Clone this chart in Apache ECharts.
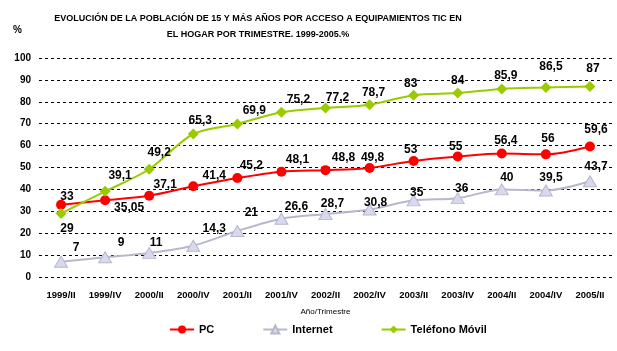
<!DOCTYPE html>
<html>
<head>
<meta charset="utf-8">
<script src="https://cdn.jsdelivr.net/npm/echarts@6/dist/echarts.min.js"></script>
<style>
  html, body { margin: 0; padding: 0; background: #fff; }
  #chart { width: 617px; height: 351px; }
</style>
</head>
<body>
<div id="chart"></div>
<script>
var periodos = ['1999/II', '1999/IV', '2000/II', '2000/IV', '2001/II', '2001/IV', '2002/II', '2002/IV', '2003/II', '2003/IV', '2004/II', '2004/IV', '2005/II'];
var pc = [33, 35.05, 37.1, 41.4, 45.2, 48.1, 48.8, 49.8, 53, 55, 56.4, 56, 59.6];
var internet = [7, 9, 11, 14.3, 21, 26.6, 28.7, 30.8, 35, 36, 40, 39.5, 43.7];
var movil = [29, 39.1, 49.2, 65.3, 69.9, 75.2, 77.2, 78.7, 83, 84, 85.9, 86.5, 87];

// desplazamiento de etiquetas (como en Excel)
var offPc = [[6, -8], [24, 7], [16, -11], [21, -11], [14, -12], [16, -12], [18, -12], [3, -10], [-3, -11], [-2, -10], [4, -13], [2, -16], [6, -17]];
var offInternet = [[15, -14], [16, -15], [7, -10], [21, -17], [14, -18], [15, -12], [7, -10], [6, -7], [3, -8], [4, -9], [5, -12], [5, -13], [6, -15]];
var offMovil = [[6, 15], [15, -16], [10, -17], [7, -13], [17, -13], [17, -13], [12, -10], [4, -12], [-3, -12], [0, -12], [4, -13], [5, -21], [3, -18]];

var fuente = 'Liberation Sans';

function conEtiquetas(vals, offs) {
	var out = [];
	for (var i = 0; i < vals.length; i++) {
		out.push({ value: vals[i], label: { offset: offs[i] } });
	}
	return out;
}

function fmt(p) {
	return String(p.value).replace('.', ',');
}

var etiqueta = {
	show: true,
	position: 'inside',
	formatter: fmt,
	color: '#000',
	fontFamily: fuente,
	fontSize: 12,
	fontWeight: 'bold'
};

var chart = echarts.init(document.getElementById('chart'));
chart.setOption({
	animation: false,
	textStyle: { fontFamily: fuente },
	graphic: [
		{
			type: 'text', x: 258, y: 11,
			style: {
				text: 'EVOLUCIÓN DE LA POBLACIÓN DE 15 Y MÁS AÑOS POR ACCESO A EQUIPAMIENTOS TIC EN\nEL HOGAR POR TRIMESTRE. 1999-2005.%',
				textAlign: 'center', fill: '#000', font: 'bold 9px "Liberation Sans"', lineHeight: 16
			}
		},
		{
			type: 'text', left: 13, top: 25,
			style: { text: '%', fill: '#000', font: 'bold 10px "Liberation Sans"' }
		}
	],
	grid: { left: 39, right: 5, top: 58, bottom: 74, containLabel: false },
	legend: {
		left: 164, top: 319,
		itemWidth: 24, itemHeight: 10, itemGap: 48,
		textStyle: { fontFamily: fuente, fontSize: 11, fontWeight: 'bold', color: '#000' },
		data: ['PC', 'Internet', 'Teléfono Móvil']
	},
	xAxis: {
		type: 'category',
		data: periodos,
		boundaryGap: true,
		name: 'Año/Trimestre',
		nameLocation: 'middle',
		nameGap: 31,
		nameTextStyle: { fontFamily: fuente, fontSize: 8, color: '#000' },
		axisLine: { show: false },
		axisTick: { show: false },
		axisLabel: { margin: 13, interval: 0, color: '#000', fontFamily: fuente, fontSize: 9.5, fontWeight: 'bold' }
	},
	yAxis: {
		type: 'value',
		min: 0, max: 100, interval: 10,
		axisLine: { show: false },
		axisTick: { show: false },
		axisLabel: { margin: 8, color: '#000', fontFamily: fuente, fontSize: 10, fontWeight: 'bold' },
		splitLine: { lineStyle: { color: '#000', type: [3, 3], width: 1 } }
	},
	series: [
		{
			name: 'PC', type: 'line', smooth: 0.3,
			symbol: 'circle', symbolSize: 10,
			itemStyle: { color: '#ff0000' },
			lineStyle: { color: '#ff0000', width: 2 },
			label: etiqueta,
			data: conEtiquetas(pc, offPc)
		},
		{
			name: 'Internet', type: 'line', smooth: 0.3,
			symbol: 'triangle', symbolSize: [13, 11],
			itemStyle: { color: '#d8d8ee', borderColor: '#b8b8cc', borderWidth: 1 },
			lineStyle: { color: '#b8b8cc', width: 2 },
			label: etiqueta,
			data: conEtiquetas(internet, offInternet)
		},
		{
			name: 'Teléfono Móvil', type: 'line', smooth: 0.3,
			symbol: 'diamond', symbolSize: 11,
			itemStyle: { color: '#99cc00' },
			lineStyle: { color: '#99cc00', width: 2 },
			label: etiqueta,
			data: conEtiquetas(movil, offMovil)
		}
	]
});
</script>
</body>
</html>
